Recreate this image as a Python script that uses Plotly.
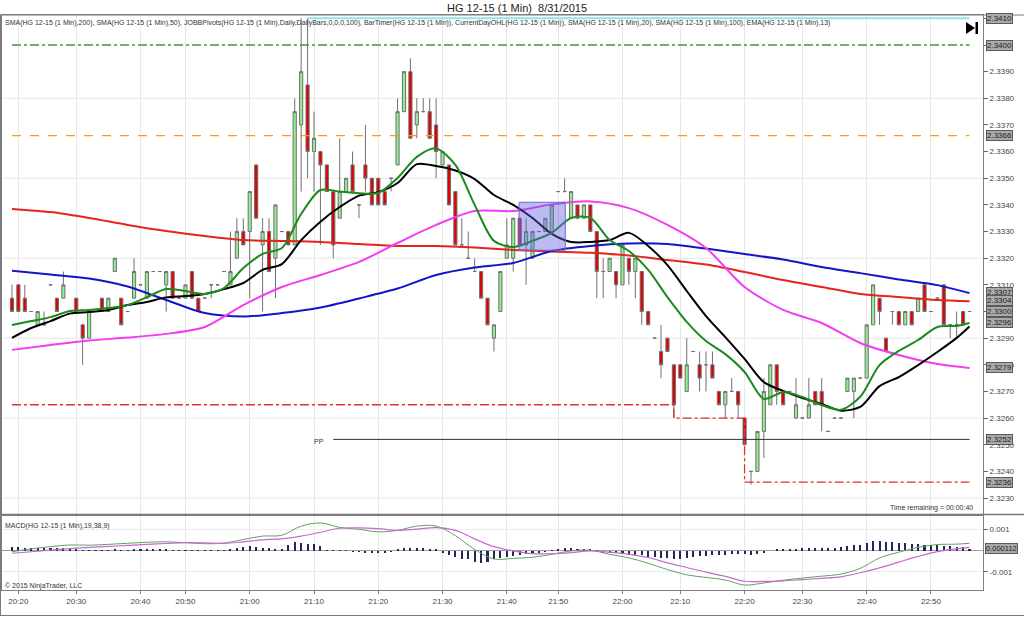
import plotly.graph_objects as go

# ---------------- data ----------------
missing_minutes = ["20:25", "20:43", "20:45", "20:47", "21:44", "21:47", "22:05", "22:26"]
times = []
for m in range(20 * 60 + 19, 22 * 60 + 57):
    t = f"{m // 60}:{m % 60:02d}"
    if t not in missing_minutes:
        times.append(t)

tick_times = ["20:20", "20:30", "20:40", "20:50", "21:00", "21:10", "21:20", "21:30",
              "21:40", "21:50", "22:00", "22:10", "22:20", "22:30", "22:40", "22:50"]

opens = [
2.3305, 2.3310, 2.3305, 2.3300, 2.3295, 2.3295, 2.3310, 2.3305, 2.3305, 2.3300,
2.3305, 2.3295, 2.3290, 2.3300, 2.3305, 2.3300, 2.3315, 2.3305, 2.3300, 2.3305,
2.3310, 2.3305, 2.3315, 2.3315, 2.3310, 2.3315, 2.3305, 2.3305, 2.3315, 2.3305,
2.3305, 2.3310, 2.3310, 2.3315, 2.3310, 2.3320, 2.3330, 2.3330, 2.3355, 2.3325,
2.3330, 2.3320, 2.3330, 2.3330, 2.3325, 2.3370, 2.3385, 2.3360, 2.3360, 2.3355,
2.3345, 2.3335, 2.3345, 2.3355, 2.3340, 2.3355, 2.3350, 2.3350, 2.3345, 2.3350,
2.3355, 2.3375, 2.3390, 2.3370, 2.3375, 2.3375, 2.3370, 2.3355, 2.3355, 2.3345,
2.3325, 2.3320, 2.3315, 2.3315, 2.3305, 2.3290, 2.3300, 2.3320, 2.3320, 2.3335,
2.3325, 2.3320, 2.3330, 2.3330, 2.3330, 2.3345, 2.3345, 2.3335, 2.3340, 2.3335,
2.3340, 2.3330, 2.3315, 2.3315, 2.3315, 2.3310, 2.3320, 2.3315, 2.3315, 2.3300,
2.3290, 2.3285, 2.3290, 2.3280, 2.3280, 2.3270, 2.3285, 2.3280, 2.3280, 2.3280,
2.3270, 2.3265, 2.3270, 2.3270, 2.3260, 2.3240, 2.3240, 2.3255, 2.3265, 2.3280,
2.3270, 2.3270, 2.3260, 2.3260, 2.3260, 2.3270, 2.3270, 2.3255, 2.3260, 2.3260,
2.3270, 2.3270, 2.3275, 2.3275, 2.3295, 2.3305, 2.3290, 2.3300, 2.3300, 2.3295,
2.3300, 2.3300, 2.3310, 2.3300, 2.3305, 2.3310, 2.3295, 2.3295, 2.3300, 2.3300,
]
highs = [
2.3310, 2.3310, 2.3310, 2.3300, 2.3300, 2.3300, 2.3310, 2.3305, 2.3315, 2.3300,
2.3305, 2.3295, 2.3300, 2.3300, 2.3305, 2.3305, 2.3320, 2.3305, 2.3300, 2.3320,
2.3310, 2.3315, 2.3315, 2.3315, 2.3315, 2.3315, 2.3305, 2.3310, 2.3315, 2.3305,
2.3305, 2.3310, 2.3310, 2.3315, 2.3330, 2.3335, 2.3335, 2.3345, 2.3355, 2.3335,
2.3335, 2.3340, 2.3330, 2.3330, 2.3380, 2.3410, 2.3410, 2.3375, 2.3360, 2.3355,
2.3345, 2.3365, 2.3350, 2.3360, 2.3340, 2.3370, 2.3350, 2.3350, 2.3345, 2.3350,
2.3380, 2.3390, 2.3395, 2.3380, 2.3380, 2.3380, 2.3380, 2.3360, 2.3355, 2.3345,
2.3335, 2.3330, 2.3320, 2.3315, 2.3305, 2.3295, 2.3315, 2.3335, 2.3335, 2.3335,
2.3335, 2.3330, 2.3330, 2.3335, 2.3340, 2.3345, 2.3350, 2.3345, 2.3340, 2.3340,
2.3340, 2.3330, 2.3320, 2.3320, 2.3315, 2.3325, 2.3320, 2.3320, 2.3315, 2.3300,
2.3290, 2.3295, 2.3290, 2.3280, 2.3280, 2.3290, 2.3285, 2.3285, 2.3285, 2.3285,
2.3270, 2.3270, 2.3275, 2.3270, 2.3260, 2.3240, 2.3255, 2.3275, 2.3280, 2.3280,
2.3270, 2.3270, 2.3275, 2.3260, 2.3275, 2.3270, 2.3275, 2.3255, 2.3260, 2.3260,
2.3275, 2.3275, 2.3275, 2.3295, 2.3310, 2.3305, 2.3290, 2.3300, 2.3300, 2.3300,
2.3300, 2.3305, 2.3310, 2.3300, 2.3305, 2.3310, 2.3295, 2.3300, 2.3300, 2.3300,
]
lows = [
2.3300, 2.3300, 2.3300, 2.3300, 2.3295, 2.3295, 2.3310, 2.3300, 2.3305, 2.3300,
2.3300, 2.3280, 2.3290, 2.3300, 2.3300, 2.3300, 2.3315, 2.3295, 2.3300, 2.3305,
2.3310, 2.3305, 2.3315, 2.3315, 2.3300, 2.3305, 2.3305, 2.3305, 2.3305, 2.3300,
2.3305, 2.3305, 2.3310, 2.3315, 2.3310, 2.3320, 2.3325, 2.3305, 2.3335, 2.3300,
2.3315, 2.3305, 2.3330, 2.3325, 2.3325, 2.3345, 2.3350, 2.3345, 2.3325, 2.3345,
2.3320, 2.3335, 2.3345, 2.3345, 2.3335, 2.3345, 2.3340, 2.3340, 2.3340, 2.3345,
2.3355, 2.3375, 2.3365, 2.3365, 2.3375, 2.3365, 2.3350, 2.3355, 2.3340, 2.3325,
2.3325, 2.3320, 2.3315, 2.3305, 2.3295, 2.3285, 2.3300, 2.3320, 2.3315, 2.3325,
2.3310, 2.3320, 2.3330, 2.3330, 2.3330, 2.3345, 2.3345, 2.3335, 2.3335, 2.3335,
2.3330, 2.3305, 2.3305, 2.3315, 2.3305, 2.3310, 2.3310, 2.3305, 2.3295, 2.3295,
2.3290, 2.3275, 2.3285, 2.3260, 2.3275, 2.3270, 2.3285, 2.3270, 2.3270, 2.3275,
2.3265, 2.3260, 2.3270, 2.3260, 2.3250, 2.3235, 2.3240, 2.3245, 2.3265, 2.3265,
2.3265, 2.3270, 2.3260, 2.3260, 2.3260, 2.3265, 2.3255, 2.3255, 2.3260, 2.3260,
2.3270, 2.3260, 2.3275, 2.3275, 2.3295, 2.3295, 2.3285, 2.3295, 2.3295, 2.3295,
2.3295, 2.3300, 2.3300, 2.3300, 2.3305, 2.3295, 2.3290, 2.3290, 2.3295, 2.3300,
]
closes = [
2.3300, 2.3300, 2.3300, 2.3300, 2.3300, 2.3295, 2.3310, 2.3300, 2.3310, 2.3300,
2.3300, 2.3290, 2.3300, 2.3300, 2.3300, 2.3305, 2.3320, 2.3295, 2.3300, 2.3315,
2.3310, 2.3315, 2.3315, 2.3315, 2.3315, 2.3305, 2.3305, 2.3310, 2.3305, 2.3300,
2.3305, 2.3310, 2.3310, 2.3315, 2.3315, 2.3330, 2.3325, 2.3345, 2.3335, 2.3330,
2.3315, 2.3340, 2.3330, 2.3325, 2.3375, 2.3390, 2.3360, 2.3365, 2.3355, 2.3345,
2.3325, 2.3345, 2.3350, 2.3345, 2.3340, 2.3350, 2.3340, 2.3340, 2.3340, 2.3350,
2.3375, 2.3390, 2.3365, 2.3375, 2.3375, 2.3365, 2.3360, 2.3360, 2.3340, 2.3325,
2.3325, 2.3320, 2.3315, 2.3305, 2.3295, 2.3295, 2.3315, 2.3325, 2.3335, 2.3325,
2.3330, 2.3330, 2.3330, 2.3335, 2.3340, 2.3345, 2.3345, 2.3345, 2.3335, 2.3340,
2.3330, 2.3315, 2.3315, 2.3320, 2.3310, 2.3325, 2.3315, 2.3320, 2.3300, 2.3295,
2.3290, 2.3280, 2.3285, 2.3265, 2.3275, 2.3280, 2.3285, 2.3275, 2.3280, 2.3275,
2.3265, 2.3270, 2.3270, 2.3265, 2.3250, 2.3240, 2.3255, 2.3270, 2.3280, 2.3270,
2.3265, 2.3270, 2.3265, 2.3260, 2.3265, 2.3265, 2.3265, 2.3255, 2.3260, 2.3260,
2.3275, 2.3275, 2.3275, 2.3295, 2.3310, 2.3300, 2.3285, 2.3300, 2.3295, 2.3300,
2.3295, 2.3305, 2.3300, 2.3300, 2.3305, 2.3295, 2.3295, 2.3295, 2.3295, 2.3300,
]

# indicator values read at sample bars
slow_idx = [0, 6, 12, 18, 24, 30, 36, 42, 48, 54, 60, 66, 72, 78, 84, 90, 96, 102,
            108, 114, 120, 126, 132, 138, 144, 149]
sma200 = [2.33385, 2.33373, 2.33351, 2.33325, 2.33302, 2.33283, 2.33268, 2.33265, 2.33261,
          2.33253, 2.33246, 2.33246, 2.33240, 2.33231, 2.33225, 2.33220, 2.33210, 2.33193,
          2.33176, 2.33148, 2.33118, 2.33092, 2.33066, 2.33054, 2.33043, 2.33038]
sma100 = [2.33153, 2.33139, 2.33124, 2.33094, 2.33043, 2.32994, 2.32981, 2.32994, 2.33015,
          2.33049, 2.33086, 2.33137, 2.33165, 2.33182, 2.33227, 2.33246, 2.33255, 2.33253,
          2.33236, 2.33216, 2.33195, 2.33167, 2.33144, 2.33120, 2.33099, 2.33069]
sma50 = [2.32856, 2.32874, 2.32891, 2.32902, 2.32916, 2.32942, 2.33024, 2.33092, 2.33137,
         2.33186, 2.33257, 2.33325, 2.33377, 2.33377, 2.33402, 2.33413, 2.33388, 2.33325,
         2.33238, 2.33092, 2.33006, 2.32957, 2.32882, 2.32837, 2.32803, 2.32788]

fast_idx = list(range(0, 148, 3)) + [149]
sma20 = [2.32901, 2.32938, 2.32964, 2.32992, 2.32998, 2.33006, 2.33024, 2.33036, 2.33053,
         2.33058, 2.33066, 2.33084, 2.33107, 2.33156, 2.33178, 2.33268, 2.33337, 2.33392,
         2.33435, 2.33448, 2.33482, 2.33553, 2.33546, 2.33529, 2.33497, 2.33437, 2.33400,
         2.33351, 2.33291, 2.33261, 2.33261, 2.33268, 2.33295, 2.33246, 2.33174, 2.33077,
         2.32983, 2.32904, 2.32822, 2.32735, 2.32702, 2.32675, 2.32653, 2.32628, 2.32642,
         2.32720, 2.32754, 2.32799, 2.32848, 2.32901, 2.32944]
ema13 = [2.32949, 2.32964, 2.32979, 2.33002, 2.33006, 2.33013, 2.33024, 2.33054, 2.33084,
         2.33077, 2.33066, 2.33088, 2.33163, 2.33216, 2.33238, 2.33366, 2.33456, 2.33450,
         2.33444, 2.33445, 2.33501, 2.33580, 2.33612, 2.33550, 2.33400, 2.33265, 2.33242,
         2.33265, 2.33295, 2.33351, 2.33351, 2.33268, 2.33227, 2.33156, 2.33054, 2.32961,
         2.32889, 2.32840, 2.32773, 2.32672, 2.32698, 2.32679, 2.32649, 2.32631, 2.32680,
         2.32799, 2.32852, 2.32893, 2.32942, 2.32946, 2.32957]

macd_line = [-0.00006, 0.00008, 0.00018, 0.00026, 0.00025, 0.00029, 0.00034, 0.00039, 0.00041,
             0.00037, 0.00032, 0.00035, 0.00052, 0.00068, 0.00072, 0.00115, 0.00130, 0.00109,
             0.00100, 0.00088, 0.00095, 0.00115, 0.00115, 0.00070, 0.00005, -0.00040, -0.00037,
             -0.00032, -0.00018, -0.00002, 0.00001, -0.00018, -0.00035, -0.00060, -0.00090,
             -0.00115, -0.00127, -0.00139, -0.00163, -0.00153, -0.00140, -0.00130, -0.00121,
             -0.00111, -0.00084, -0.00035, -0.00008, 0.00015, 0.00028, 0.00030, 0.00034]
macd_signal = [-0.00013, -0.00006, 0.00002, 0.00009, 0.00015, 0.00019, 0.00024, 0.00029, 0.00033,
               0.00037, 0.00036, 0.00034, 0.00041, 0.00050, 0.00055, 0.00068, 0.00086, 0.00105,
               0.00107, 0.00103, 0.00095, 0.00101, 0.00108, 0.00095, 0.00055, 0.00018, -0.00002,
               -0.00015, -0.00015, -0.00010, -0.00002, -0.00008, -0.00018, -0.00033, -0.00058,
               -0.00080, -0.00102, -0.00122, -0.00145, -0.00146, -0.00143, -0.00137, -0.00131,
               -0.00124, -0.00105, -0.00082, -0.00055, -0.00028, -0.00005, 0.00008, 0.00015]
hist_unit = 1e-4
macd_hist = [
1.8, 1.8, 1.6, 1.5, 1.5, 1.5, 1.3, 1.3, 1.5, 1.2, 0.7,
0.3, 0.2, 0.2, 0.3, 0.3, 1.0, 0.4, 0.3, 0.9, 1.0, 1.0, 1.1, 1.0, 0.7,
0.2, 0.1, 0.2, 0.1, 0.1, 0.2, 0.2, 0.1, 0.3,
0.9, 1.3, 2.1, 2.3, 2.1, 1.3, 1.5, 1.0, 1.0, 2.6, 4.2, 3.8, 3.4, 3.1, 2.4, 0.4, 0.2, 0.1, 0.1,
-0.2, -0.4, -0.5, -0.6, -0.8, -0.5, -0.3,
0.5, 1.5, 1.5, 1.5, 1.5, 1.0, 0.5,
-1.0, -1.8, -2.9, -3.7, -4.0, -5.0, -5.6, -5.3, -4.0, -3.5, -2.8, -2.3, -1.8, -1.4, -1.0, -0.7,
-0.3, 0.2, 1.0, 1.5, 1.2, 1.0, 0.9, 0.7, 0.2,
-0.7, -1.0, -1.0, -1.3, -1.6, -1.8, -2.1, -2.6, -2.9, -3.3, -3.5, -3.7, -3.9, -3.4, -2.9, -2.5,
-2.3, -2.1, -1.8, -1.7, -1.4, -1.4, -1.6, -1.8, -1.3, -0.7, 0.0,
0.7, 0.8, 1.0, 1.0, 1.2, 1.3, 1.5, 1.2, 1.2, 1.5, 1.8, 2.3, 2.7, 2.9, 3.8, 4.6, 4.5, 4.2, 4.2,
4.0, 3.7, 3.5, 3.1, 2.9, 2.7, 2.6, 2.4, 2.3, 2.1, 1.8, 1.12,
]

# levels (pivots / current day OHL)
r1_level = 2.3400
open_level = 2.3366
pp_level = 2.3252
day_high = 2.3410
high_from_bar = 46
low_step_bars = [0, 103, 114, 149]
low_step_vals = [2.3265, 2.3260, 2.3236, 2.3236]
pp_from_bar = 50

price_ticks = [2.3230, 2.3240, 2.3250, 2.3260, 2.3270, 2.3280, 2.3290, 2.3300, 2.3310, 2.3320,
               2.3330, 2.3340, 2.3350, 2.3360, 2.3370, 2.3380, 2.3390, 2.3400, 2.3410]
grid_levels = [2.3230, 2.3260, 2.3290, 2.3320, 2.3350, 2.3380]
tag_values = [2.3410, 2.3400, 2.3366, 2.3307, 2.3304, 2.3300, 2.3296, 2.3279, 2.3252, 2.3236]
macd_tag = 0.000112

# drawn rectangle (chart drawing object)
box_x = [78.9, 86.1]
box_y = [2.3323, 2.3341]

# ---------------- layout helpers ----------------
L, R, T, B = 2, 983, 15, 590
W, H = 1024, 617


def px_x(px):
    return (px - L) / (R - L)


def px_y(py):
    return (B - py) / (B - T)


FONT = "Liberation Sans, Arial, sans-serif"
last = len(times) - 1

# tick labels hidden where a value tag sits exactly on top of them
covered = {f"{v:.4f}" for v in tag_values}
price_ticktext = ["" if f"{v:.4f}" in covered else f"{v:.4f}" for v in price_ticks]

fig = go.Figure()

# price levels
fig.add_trace(go.Scatter(x=[times[0], times[last]], y=[r1_level, r1_level], mode="lines",
                         line=dict(color="#3a9a3a", width=1.3, dash="dashdot"), xaxis="x", yaxis="y"))
fig.add_trace(go.Scatter(x=[times[0], times[last]], y=[open_level, open_level], mode="lines",
                         line=dict(color="#f0a010", width=1.3, dash="dash"), xaxis="x", yaxis="y"))
fig.add_trace(go.Scatter(x=[times[pp_from_bar], times[last]], y=[pp_level, pp_level], mode="lines",
                         line=dict(color="#333333", width=1), xaxis="x", yaxis="y"))
fig.add_trace(go.Scatter(x=[times[high_from_bar], times[last]], y=[day_high, day_high], mode="lines",
                         line=dict(color="#8ee4ec", width=2), xaxis="x", yaxis="y"))
fig.add_trace(go.Scatter(x=[times[i] for i in low_step_bars], y=low_step_vals, mode="lines",
                         line=dict(color="#e03030", width=1.3, dash="dashdot", shape="hv"),
                         xaxis="x", yaxis="y"))

# candles
fig.add_trace(go.Candlestick(
    x=times, open=opens, high=highs, low=lows, close=closes,
    increasing=dict(fillcolor="#90ee90", line=dict(color="#707070", width=1)),
    decreasing=dict(fillcolor="#e00000", line=dict(color="#707070", width=1)),
    whiskerwidth=0, xaxis="x", yaxis="y", hoverinfo="skip"))

# moving averages
for idx, vals, col in [(slow_idx, sma200, "#e8231e"), (slow_idx, sma100, "#1515c8"),
                       (slow_idx, sma50, "#f23cf2"), (fast_idx, sma20, "#000000"),
                       (fast_idx, ema13, "#1d8a1d")]:
    fig.add_trace(go.Scatter(x=[times[i] for i in idx], y=vals, mode="lines",
                             line=dict(color=col, width=2, shape="spline", smoothing=0.8),
                             xaxis="x", yaxis="y"))

# MACD panel
fig.add_trace(go.Bar(x=times, y=[v * hist_unit for v in macd_hist], width=0.32,
                     marker=dict(color="#24245e", line=dict(width=0)), xaxis="x2", yaxis="y2"))
fig.add_trace(go.Scatter(x=[times[i] for i in fast_idx], y=macd_line, mode="lines",
                         line=dict(color="#5fa35f", width=1, shape="spline"), xaxis="x2", yaxis="y2"))
fig.add_trace(go.Scatter(x=[times[i] for i in fast_idx], y=macd_signal, mode="lines",
                         line=dict(color="#c66ad0", width=1.2, shape="spline"), xaxis="x2", yaxis="y2"))

xr = [-1.55, 151.1]
xcommon = dict(type="category", categoryorder="array", categoryarray=times, range=xr,
               tickmode="array", tickvals=tick_times, showgrid=True, gridcolor="#e8e8e8",
               gridwidth=1, zeroline=False, showline=True, linecolor="#808080", mirror=True,
               fixedrange=True)

shapes = []
for g in grid_levels:
    shapes.append(dict(type="line", xref="paper", yref="y", x0=0, x1=1, y0=g, y1=g,
                       line=dict(color="#e6e6e6", width=1), layer="below"))
shapes.append(dict(type="rect", xref="x", yref="y", x0=box_x[0], x1=box_x[1], y0=box_y[0], y1=box_y[1],
                   fillcolor="rgba(95,95,225,0.42)", line=dict(color="#6a6ad6", width=1), layer="above"))
# frame lines
frame = "#7a7a7a"
shapes += [
    dict(type="line", xref="paper", yref="paper", x0=px_x(0), x1=px_x(W), y0=px_y(15), y1=px_y(15),
         line=dict(color=frame, width=1)),
    dict(type="line", xref="paper", yref="paper", x0=px_x(0), x1=px_x(W), y0=px_y(514.5), y1=px_y(514.5),
         line=dict(color=frame, width=1.5)),
    dict(type="line", xref="paper", yref="paper", x0=px_x(0.5), x1=px_x(0.5), y0=px_y(15), y1=px_y(616),
         line=dict(color=frame, width=1)),
    dict(type="line", xref="paper", yref="paper", x0=px_x(0), x1=px_x(W), y0=px_y(615.5), y1=px_y(615.5),
         line=dict(color=frame, width=1)),
]
# "go to last bar" icon
shapes.append(dict(type="path", xref="paper", yref="paper",
                   path=f"M {px_x(966)} {px_y(22)} L {px_x(966)} {px_y(34)} L {px_x(975)} {px_y(28)} Z",
                   fillcolor="#000000", line=dict(width=0)))
shapes.append(dict(type="rect", xref="paper", yref="paper", x0=px_x(975.5), x1=px_x(978),
                   y0=px_y(22), y1=px_y(34), fillcolor="#000000", line=dict(width=0)))

ann = []


def text(px, py, s, size=7, anchor="left", color="#333333"):
    ann.append(dict(xref="paper", yref="paper", x=px_x(px), y=px_y(py), text=s, showarrow=False,
                    xanchor=anchor, yanchor="middle", font=dict(size=size, color=color, family=FONT)))


text(517, 8, "HG 12-15 (1 Min)  8/31/2015", size=11, anchor="center", color="#222222")
text(3, 23, "SMA(HG 12-15 (1 Min),200), SMA(HG 12-15 (1 Min),50), JOBBPivots(HG 12-15 (1 Min),Daily,"
     "DailyBars,0,0,0,100), BarTimer(HG 12-15 (1 Min)), CurrentDayOHL(HG 12-15 (1 Min)), "
     "SMA(HG 12-15 (1 Min),20), SMA(HG 12-15 (1 Min),100), EMA(HG 12-15 (1 Min),13)", size=7)
text(326, 441, "PP", size=7, anchor="right")
text(975, 508, "Time remaining = 00:00:40", size=7, anchor="right")
text(3, 526, "MACD(HG 12-15 (1 Min),19,38,9)", size=7)
text(3, 586, "© 2015 NinjaTrader, LLC", size=7)

for v in tag_values:
    ann.append(dict(xref="paper", yref="y", x=px_x(986), y=v, text=f"{v:.4f}", showarrow=False,
                    xanchor="left", yanchor="middle", bgcolor="#a9a9a9", bordercolor="#5a5a5a",
                    borderwidth=1, borderpad=0, font=dict(size=8, color="#1e1e1e", family=FONT)))
ann.append(dict(xref="paper", yref="y2", x=px_x(985), y=macd_tag, text=f"{macd_tag:.6f}", showarrow=False,
                xanchor="left", yanchor="middle", bgcolor="#a9a9a9", bordercolor="#5a5a5a",
                borderwidth=1, borderpad=0, font=dict(size=7.5, color="#1e1e1e", family=FONT)))

fig.update_layout(
    width=W, height=H, margin=dict(l=L, r=W - R, t=T, b=H - B),
    paper_bgcolor="white", plot_bgcolor="white", showlegend=False, hovermode=False,
    font=dict(family=FONT, size=8, color="#444444"),
    bargap=0,
    xaxis=dict(xcommon, anchor="y", showticklabels=False, ticks="", rangeslider=dict(visible=False)),
    xaxis2=dict(xcommon, anchor="y2", showticklabels=True, ticks="outside", ticklen=3,
                tickcolor="#808080", tickfont=dict(size=8, color="#444444")),
    yaxis=dict(domain=[px_y(513.5), 1], range=[2.32242, 2.341126], side="right",
               tickmode="array", tickvals=price_ticks, ticktext=price_ticktext, ticks="outside",
               ticklen=4, tickcolor="#666666", showgrid=False, zeroline=False, showline=True,
               linecolor="#808080", mirror=True, tickfont=dict(size=8, color="#444444"),
               fixedrange=True),
    yaxis2=dict(domain=[0, px_y(515.5)], range=[-0.001863, 0.001651], side="right",
                tickmode="array", tickvals=[0.001, -0.001], ticktext=["0.001", "-0.001"],
                ticks="outside", ticklen=4, tickcolor="#666666", showgrid=True,
                gridcolor="#ececec", zeroline=True, zerolinecolor="#a0a0a0", zerolinewidth=1,
                showline=True, linecolor="#808080", mirror=True,
                tickfont=dict(size=8, color="#444444"), fixedrange=True),
    shapes=shapes, annotations=ann,
)

fig.write_html("out.html", config={"displayModeBar": False},
               post_script="document.body.style.margin='0';document.body.style.overflow='hidden';")
